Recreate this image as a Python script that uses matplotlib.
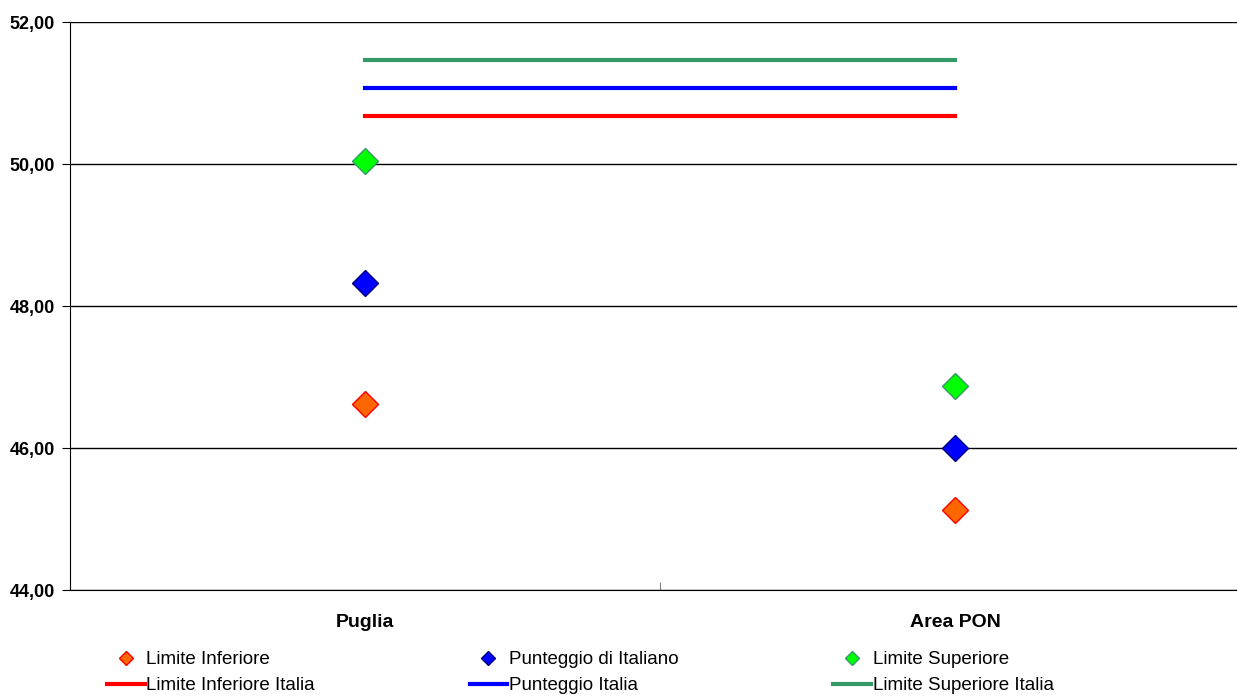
import numpy as np
import matplotlib.pyplot as plt
from matplotlib.ticker import FuncFormatter

plt.rcParams['font.family'] = ['Liberation Sans', 'DejaVu Sans']

categories = ['Puglia', 'Area PON']
limite_inferiore = [46.62, 45.12]
punteggio = [48.33, 46.00]
limite_superiore = [50.04, 46.87]
lim_inf_italia = [50.68, 50.68]
punteggio_italia = [51.07, 51.07]
lim_sup_italia = [51.47, 51.47]

fig = plt.figure(figsize=(12.37, 6.97), dpi=100)
ax = fig.add_axes([0.0566, 0.1535, 0.954, 0.8149])
x = np.arange(len(categories))

# reference lines for Italy
l1, = ax.plot(x, lim_inf_italia, color='#ff0000', lw=3, label='Limite Inferiore Italia')
l2, = ax.plot(x, punteggio_italia, color='#0000ff', lw=3, label='Punteggio Italia')
l3, = ax.plot(x, lim_sup_italia, color='#339966', lw=3, label='Limite Superiore Italia')

ms = 13
m1, = ax.plot(x, limite_inferiore, 'D', ms=ms, color='#ff6600', mec='#ff0000', mew=1,
              ls='none', label='Limite Inferiore')
m2, = ax.plot(x, punteggio, 'D', ms=ms, color='#0000ff', mec='#000080', mew=1,
              ls='none', label='Punteggio di Italiano')
m3, = ax.plot(x, limite_superiore, 'D', ms=ms, color='#00ff00', mec='#339966', mew=1,
              ls='none', label='Limite Superiore')

ax.set_xlim(-0.5, 1.5)
ax.set_ylim(44, 52)
ax.set_yticks([44, 46, 48, 50, 52])
ax.yaxis.set_major_formatter(FuncFormatter(lambda v, p: f'{v:.2f}'.replace('.', ',')))
ax.set_xticks([0.5])
ax.set_xticklabels([''])
ax.set_xticks(x, minor=True)
ax.set_xticklabels(categories, minor=True, fontsize=14, fontweight='bold')
ax.tick_params(axis='x', which='minor', length=0, pad=17)
ax.tick_params(axis='x', which='major', length=6, direction='in', color='#808080')
ax.tick_params(axis='y', length=6, direction='out', labelsize=13, pad=5)
for lab in ax.get_yticklabels():
    lab.set_fontweight('bold')

ax.grid(axis='y', color='#000000', lw=1)
ax.set_axisbelow(True)
for s in ['top', 'right']:
    ax.spines[s].set_visible(False)
ax.spines['left'].set_color('#000000')
ax.spines['bottom'].set_color('#000000')

handles = [m1, l1, m2, l2, m3, l3]
fig.legend(handles, [h.get_label() for h in handles],
           ncol=3, loc='upper left', bbox_to_anchor=(0.0865, 0.066),
           frameon=False, fontsize=13.5, handlelength=2.0, handletextpad=0.1,
           columnspacing=8.25, labelspacing=0.49, markerscale=0.55,
           borderaxespad=0, borderpad=0)

fig.savefig('out.png', dpi=100)
